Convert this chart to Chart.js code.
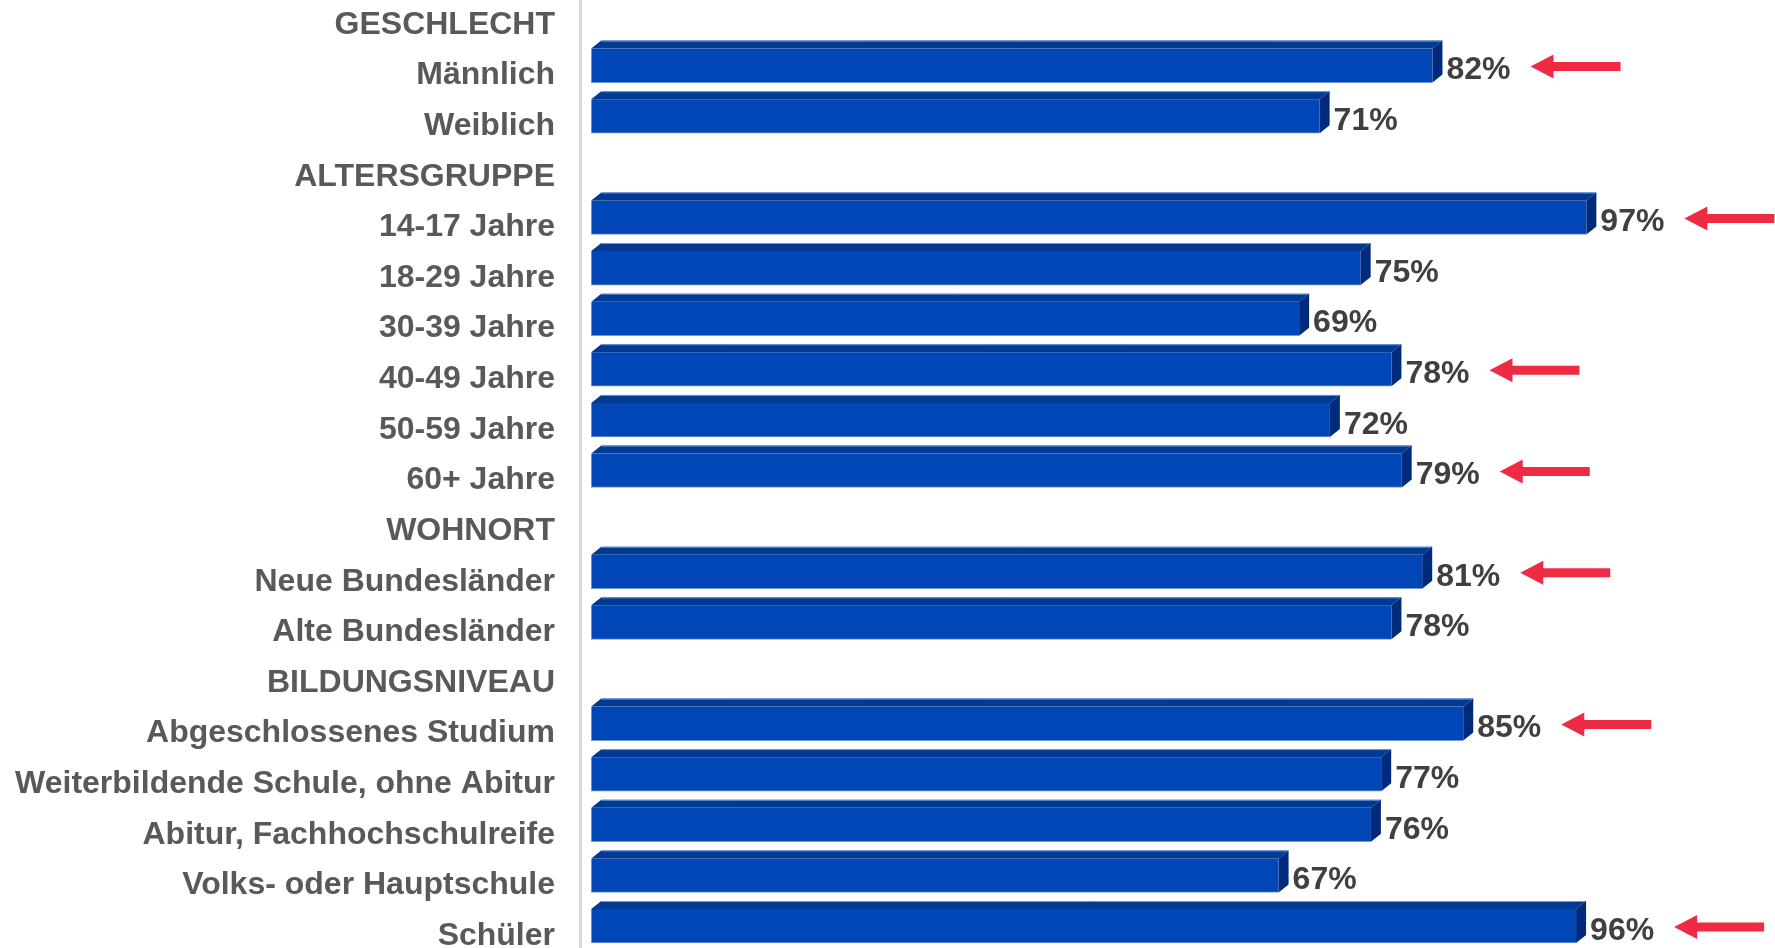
<!DOCTYPE html>
<html lang="de">
<head>
<meta charset="utf-8">
<title>Zustimmung nach Bevölkerungsgruppen</title>
<script src="https://cdn.jsdelivr.net/npm/chart.js@4/dist/chart.umd.min.js"></script>
<style>
  html, body { margin: 0; padding: 0; background: #ffffff; }
  #wrap { width: 1775px; height: 948px; }
</style>
</head>
<body>
<div id="wrap"><canvas id="chart" width="1775" height="948"></canvas></div>
<script>
// Rows of the chart: group headings have no bar (null value)
const categories = [
  'GESCHLECHT', 'Männlich', 'Weiblich',
  'ALTERSGRUPPE', '14-17 Jahre', '18-29 Jahre', '30-39 Jahre', '40-49 Jahre', '50-59 Jahre', '60+ Jahre',
  'WOHNORT', 'Neue Bundesländer', 'Alte Bundesländer',
  'BILDUNGSNIVEAU', 'Abgeschlossenes Studium', 'Weiterbildende Schule, ohne Abitur',
  'Abitur, Fachhochschulreife', 'Volks- oder Hauptschule', 'Schüler'
];
const shares = [
  null, 82, 71,
  null, 97, 75, 69, 78, 72, 79,
  null, 81, 78,
  null, 85, 77, 76, 67, 96
];
// Rows marked with a red arrow
const highlighted = [
  false, true, false,
  false, true, false, false, true, false, true,
  false, true, false,
  false, true, false, false, false, true
];

const FONT = '"Liberation Sans", Arial, Helvetica, sans-serif';
const DEPTH_X = 10, DEPTH_Y = 8;

// Pseudo-3D faces, value labels and arrows drawn on top of the flat bars
const bar3d = {
  id: 'bar3d',
  beforeDatasetsDraw(chart) {
    const { ctx, chartArea } = chart;
    ctx.save();
    ctx.strokeStyle = '#d9d9d9';
    ctx.lineWidth = 3;
    ctx.beginPath();
    ctx.moveTo(chartArea.left - 0.5, 0);
    ctx.lineTo(chartArea.left - 0.5, chart.height);
    ctx.stroke();
    ctx.restore();
  },
  afterDatasetsDraw(chart) {
    const { ctx } = chart;
    const meta = chart.getDatasetMeta(0);
    ctx.save();
    meta.data.forEach((el, i) => {
      const v = shares[i];
      if (v === null || v === undefined) return;
      const p = el.getProps(['x', 'y', 'base', 'height'], true);
      const x0 = p.base, x1 = p.x;
      const yT = p.y - p.height / 2, yB = p.y + p.height / 2;
      // top face
      ctx.fillStyle = '#003a92';
      ctx.beginPath();
      ctx.moveTo(x0, yT);
      ctx.lineTo(x0 + DEPTH_X, yT - DEPTH_Y);
      ctx.lineTo(x1 + DEPTH_X, yT - DEPTH_Y);
      ctx.lineTo(x1, yT);
      ctx.closePath();
      ctx.fill();
      ctx.strokeStyle = '#6f97dc';
      ctx.lineWidth = 1;
      ctx.beginPath();
      ctx.moveTo(x0 + DEPTH_X, yT - DEPTH_Y + 0.5);
      ctx.lineTo(x1 + DEPTH_X, yT - DEPTH_Y + 0.5);
      ctx.stroke();
      // side face
      ctx.fillStyle = '#002b7c';
      ctx.beginPath();
      ctx.moveTo(x1, yT);
      ctx.lineTo(x1 + DEPTH_X, yT - DEPTH_Y);
      ctx.lineTo(x1 + DEPTH_X, yB - DEPTH_Y);
      ctx.lineTo(x1, yB);
      ctx.closePath();
      ctx.fill();

      // value label
      ctx.font = 'bold 32px ' + FONT;
      ctx.fillStyle = '#404040';
      ctx.textAlign = 'left';
      ctx.textBaseline = 'middle';
      const text = v + '%';
      const tx = x1 + DEPTH_X + 4;
      ctx.fillText(text, tx, p.y + 5);

      // red arrow pointing at the value
      if (highlighted[i]) {
        const tip = tx + ctx.measureText(text).width + 20;
        const len = 90, headLen = 23, headH = 24, shaft = 9;
        const cy = p.y + 1;
        ctx.fillStyle = '#ef2b43';
        ctx.beginPath();
        ctx.moveTo(tip, cy);
        ctx.lineTo(tip + headLen, cy - headH / 2);
        ctx.lineTo(tip + headLen, cy - shaft / 2);
        ctx.lineTo(tip + len, cy - shaft / 2);
        ctx.lineTo(tip + len, cy + shaft / 2);
        ctx.lineTo(tip + headLen, cy + shaft / 2);
        ctx.lineTo(tip + headLen, cy + headH / 2);
        ctx.closePath();
        ctx.fill();
      }
    });
    ctx.restore();
  }
};

new Chart(document.getElementById('chart'), {
  type: 'bar',
  data: {
    labels: categories,
    datasets: [{
      data: shares,
      backgroundColor: '#0046b6',
      borderColor: '#6f97dc',
      borderWidth: { top: 0, right: 0, bottom: 1, left: 1 },
      borderSkipped: false,
      barThickness: 34,
      clip: false
    }]
  },
  plugins: [bar3d],
  options: {
    indexAxis: 'y',
    responsive: false,
    devicePixelRatio: 1,
    animation: false,
    layout: { padding: { top: 15, bottom: 22, left: 0, right: 4 } },
    plugins: {
      legend: { display: false },
      tooltip: { enabled: false },
      title: { display: false }
    },
    scales: {
      x: {
        display: false,
        min: -1,
        max: 115
      },
      y: {
        offset: false,
        grid: { display: false, drawTicks: false },
        border: { display: false },
        ticks: {
          autoSkip: false,
          padding: 26,
          labelOffset: 10,
          color: '#595959',
          font: { family: FONT, size: 32, weight: 'bold' }
        },
        afterFit(scale) {
          scale.width = 581;
          scale.paddingTop = 0;
          scale.paddingBottom = 0;
        }
      }
    }
  }
});
</script>
</body>
</html>
